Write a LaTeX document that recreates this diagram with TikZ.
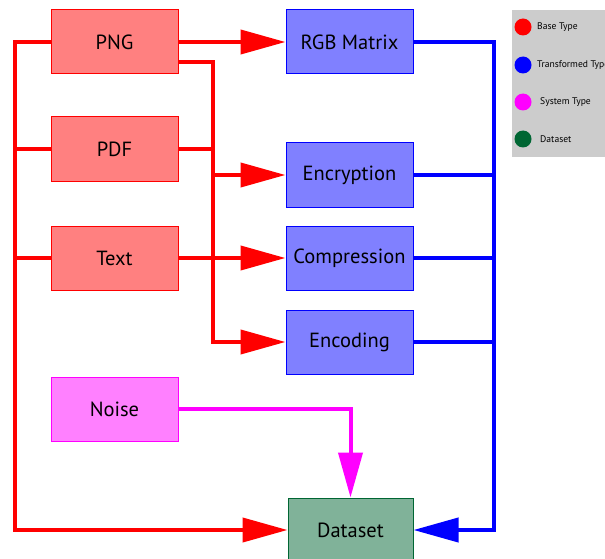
\documentclass[tikz,border=0pt]{standalone}
\usepackage{fontspec}
\setmainfont{PT Sans}
\usetikzlibrary{arrows.meta}
\definecolor{dsgreen}{RGB}{0,102,51}
\definecolor{legendgray}{RGB}{204,204,204}
\definecolor{mred}{RGB}{255,0,0}
\definecolor{mblue}{RGB}{0,0,255}
\definecolor{mmag}{RGB}{255,0,255}
\begin{document}
\begin{tikzpicture}[x=1pt,y=-1pt,
  box/.style={draw, line width=1pt, minimum width=127pt, minimum height=64pt, inner sep=0pt, font=\fontsize{20.5}{22}\selectfont},
  base/.style={box, draw=mred, fill=mred!50},
  trans/.style={box, draw=mblue, fill=mblue!50},
  sys/.style={box, draw=mmag, fill=mmag!50},
  dsbox/.style={box, draw=dsgreen, fill=dsgreen!50},
  redline/.style={draw=mred, line width=4pt},
  blueline/.style={draw=mblue, line width=4pt},
  magline/.style={draw=mmag, line width=4pt},
  tip/.style={-{Triangle[length=45pt,width=24pt]}},
  legdot/.style={circle, minimum size=17pt, inner sep=0pt},
  legtext/.style={anchor=west, font=\fontsize{9.6}{11}\selectfont, inner sep=0pt}
]
\useasboundingbox (0,0) rectangle (605,559);

% nodes
\node[base] (png) at (114.5,42) {PNG};
\node[base] (pdf) at (114.5,149) {PDF};
\node[base] (txt) at (114.5,258) {Text};
\node[sys] (noise) at (114.5,409) {Noise};
\node[trans] (rgb) at (349.5,42) {RGB Matrix};
\node[trans] (enc) at (349.5,175) {Encryption};
\node[trans] (comp) at (349.5,258) {Compression};
\node[trans] (encd) at (349.5,342) {Encoding};
\node[dsbox, minimum width=125pt] (ds) at (350.5,530) {Dataset};

% helper coordinates
\coordinate (bus) at (213,342);
\coordinate (lb) at (15,530);
\coordinate (rb) at (494,530);

% red connectors
\draw[redline,tip] (png.east) -- (rgb.west);
\draw[redline,tip] ([yshift=-20pt]png.east) -| (bus) -- (encd.west);
\draw[redline] (pdf.east) -- (pdf.east -| bus);
\draw[redline,tip] (bus |- enc.west) -- (enc.west);
\draw[redline,tip] (txt.east) -- (comp.west);
\draw[redline,tip] (png.west) -| (lb) -- (ds.west);
\draw[redline] (pdf.west) -- (pdf.west -| lb);
\draw[redline] (txt.west) -- (txt.west -| lb);

% magenta connector
\draw[magline,tip] (noise.east) -| (ds.north);

% blue connectors
\draw[blueline,tip] (rgb.east) -| (rb) -- (ds.east);
\draw[blueline] (enc.east) -- (enc.east -| rb);
\draw[blueline] (comp.east) -- (comp.east -| rb);
\draw[blueline] (encd.east) -- (encd.east -| rb);

% legend
\fill[legendgray] (512,10) rectangle (610,157);
\node[legdot, fill=mred] (l1) at (523,27) {};
\node[legdot, fill=mblue] (l2) at (523,65) {};
\node[legdot, fill=mmag] (l3) at (523,102) {};
\node[legdot, fill=dsgreen] (l4) at (523,139) {};
\node[legtext] (t1) at (537,27) {Base Type};
\node[legtext] (t2) at (537,65) {Transformed Type};
\node[legtext] (t3) at (540,102) {System Type};
\node[legtext] (t4) at (540,139) {Dataset};
\end{tikzpicture}
\end{document}
